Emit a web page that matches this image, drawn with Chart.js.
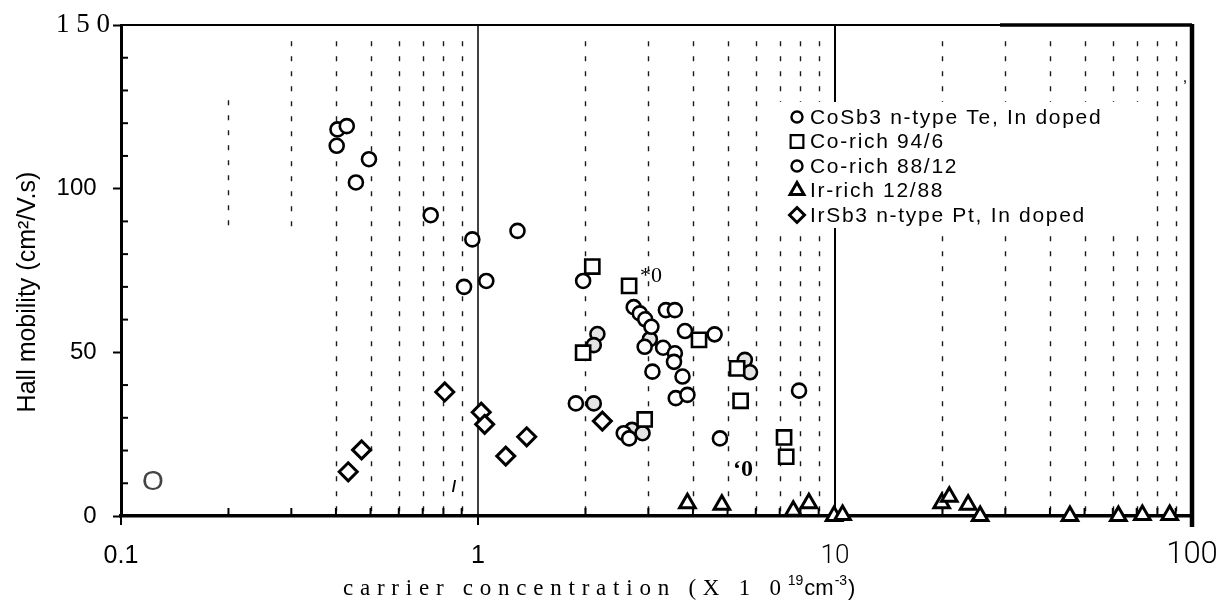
<!DOCTYPE html>
<html>
<head>
<meta charset="utf-8">
<script src="https://cdn.jsdelivr.net/npm/chart.js@4.4.1/dist/chart.umd.min.js"></script>
<style>
  html, body { margin: 0; padding: 0; background: #fff; }
  #wrap { width: 1218px; height: 611px; }
</style>
</head>
<body>
<div id="wrap"><canvas id="hall"></canvas></div>
<script>
// carrier concentration (x 1e19 cm^-3) against Hall mobility (cm2/V.s)
const cosb3X = [0.404, 0.429, 0.402, 0.495, 0.455, 0.737, 0.964, 1.29, 0.914, 1.055,
                1.97, 2.73, 2.84, 2.94, 3.06, 2.93, 3.30, 3.56, 3.54, 3.08,
                3.74, 3.36, 3.56, 3.80, 4.60, 3.58, 3.86, 1.88, 2.56, 2.65, 4.76, 7.93];
const cosb3Y = [118.1, 119.1, 113.1, 109.0, 101.9, 91.9, 84.5, 87.1, 70.0, 71.8,
                71.8, 63.8, 61.9, 60.1, 57.8, 51.7, 51.4, 49.7, 47.1, 44.1,
                42.6, 62.9, 62.9, 56.5, 55.5, 36.0, 37.0, 34.4, 25.3, 23.7, 23.7, 38.3];

const co946X = [2.09, 2.65, 1.97, 4.16, 2.93, 5.32, 5.44, 7.20, 7.30];
const co946Y = [76.2, 70.3, 49.9, 53.8, 29.5, 45.1, 35.2, 24.0, 18.1];

const co8812X = [2.16, 2.11, 3.03, 2.11, 2.70, 2.89, 5.59, 5.78];
const co8812Y = [55.6, 52.2, 54.0, 34.4, 26.3, 25.3, 47.7, 43.9];

const ir1288X = [3.86, 4.82, 7.64, 8.45, 9.94, 10.5, 19.9, 20.9, 23.6, 25.5, 45.5, 62.2, 72.6, 86.6];
const ir1288Y = [3.9, 3.4, 1.6, 3.9, 0, 0.3, 3.9, 5.9, 3.4, 0, 0, 0, 0.3, 0.3];

const irsb3X = [0.433, 0.472, 0.807, 1.021, 1.044, 1.196, 1.369, 2.23];
const irsb3Y = [13.5, 20.2, 37.9, 31.7, 28.0, 18.3, 24.2, 29.0];

const seriesNames = ['CoSb3 n-type Te, In doped', 'Co-rich 94/6', 'Co-rich 88/12',
                     'Ir-rich 12/88', 'IrSb3 n-type Pt, In doped'];

const xTicks = [0.1, 1, 10, 100];
const xTickLabels = ['0.1', '1', '10', '100'];
const yTicks = [0, 50, 100, 150];
const yTickLabels = ['0', '50', '100', '1 5 0'];

const SANS = "'Liberation Sans', Arial, sans-serif";
const SERIF = "'Liberation Serif', 'Times New Roman', serif";
const LIGHT = "Roboto, 'Liberation Sans', sans-serif";

function pts(xs, ys) {
  return xs.map((x, i) => ({x: x, y: ys[i]}));
}

function marker(style, r, bw, fill) {
  return {
    pointStyle: style, pointRadius: r, pointHoverRadius: r,
    pointBorderWidth: bw, pointBackgroundColor: fill, pointBorderColor: '#000',
    showLine: false, clip: false
  };
}

const datasets = [
  Object.assign({label: seriesNames[0], data: pts(cosb3X, cosb3Y)}, marker('circle', 7, 2.6, '#fff')),
  Object.assign({label: seriesNames[1], data: pts(co946X, co946Y)}, marker('rect', 10, 2.6, '#fff')),
  Object.assign({label: seriesNames[2], data: pts(co8812X, co8812Y)}, marker('circle', 7, 2.6, '#e4e4e4')),
  Object.assign({label: seriesNames[3], data: pts(ir1288X, ir1288Y)}, marker('triangle', 9, 3, '#fff')),
  Object.assign({label: seriesNames[4], data: pts(irsb3X, irsb3Y)}, marker('rectRot', 9, 3, '#fff'))
];

// legend marker sizes (smaller than the plotted marks)
const legendMarks = [
  {pointStyle: 'circle', radius: 5.5, borderWidth: 2.4},
  {pointStyle: 'rect', radius: 9, borderWidth: 2.2},
  {pointStyle: 'circle', radius: 5.5, borderWidth: 2.4},
  {pointStyle: 'triangle', radius: 8, borderWidth: 3},
  {pointStyle: 'rectRot', radius: 7.5, borderWidth: 3}
];

// fonts for the decade labels under the x axis
const xLabelFonts = ['25px ' + SANS, '25px ' + SANS, '300 26px ' + LIGHT, '300 31px ' + LIGHT];

// draw text with extra tracking so it fills a given width
function trackedText(ctx, str, x, y, width) {
  ctx.letterSpacing = '0px';
  const w0 = ctx.measureText(str).width;
  const sp = Math.max(0, (width - w0) / Math.max(1, str.length - 1));
  ctx.letterSpacing = sp + 'px';
  ctx.fillText(str, x, y);
  ctx.letterSpacing = '0px';
  return x + w0 + sp * str.length;
}

const framePlugin = {
  id: 'frame',
  beforeDatasetsDraw(chart) {
    const {ctx, chartArea: a, scales: {x, y}} = chart;
    ctx.save();
    // dashed lines at the intermediate decade values
    ctx.strokeStyle = '#1a1a1a';
    ctx.lineWidth = 1.4;
    ctx.setLineDash([5, 10]);
    [0.1, 1, 10].forEach(d => {
      for (let k = 2; k <= 9; k++) {
        const v = d * k;
        const px = Math.round(x.getPixelForValue(v)) + 0.5;
        let top = y.getPixelForValue(145);
        let bot = a.bottom;
        if (v < 0.25) { top = y.getPixelForValue(127); bot = y.getPixelForValue(86); }
        else if (v < 0.35) { bot = y.getPixelForValue(86); }
        ctx.beginPath();
        ctx.moveTo(px, top);
        ctx.lineTo(px, bot);
        ctx.stroke();
      }
    });
    ctx.setLineDash([]);
    // solid lines at 1 and 10
    [[1, 1.5], [10, 2]].forEach(([v, w]) => {
      const px = x.getPixelForValue(v);
      ctx.lineWidth = w;
      ctx.strokeStyle = '#000';
      ctx.beginPath();
      ctx.moveTo(px, a.top);
      ctx.lineTo(px, a.bottom);
      ctx.stroke();
    });
    // short inner ticks on the x axis
    ctx.lineWidth = 2;
    [0.1, 1, 10].forEach(d => {
      for (let k = 2; k <= 9; k++) {
        const px = x.getPixelForValue(d * k);
        ctx.beginPath();
        ctx.moveTo(px, a.bottom);
        ctx.lineTo(px, a.bottom - 8);
        ctx.stroke();
      }
    });
    // downward ticks at 0.1 and 1
    [0.1, 1].forEach(v => {
      const px = x.getPixelForValue(v);
      ctx.beginPath();
      ctx.moveTo(px, a.bottom);
      ctx.lineTo(px, a.bottom + 9);
      ctx.stroke();
    });
    // short inner ticks on the y axis between labelled values
    for (let v = 10; v < 150; v += 10) {
      if (v % 50 === 0) continue;
      const py = y.getPixelForValue(v);
      ctx.beginPath();
      ctx.moveTo(a.left, py);
      ctx.lineTo(a.left + 7, py);
      ctx.stroke();
    }
    ctx.restore();
  },
  afterDraw(chart) {
    const {ctx, chartArea: a, scales: {x}} = chart;
    ctx.save();
    // top and right frame
    ctx.strokeStyle = '#000';
    ctx.lineWidth = 2;
    ctx.beginPath();
    ctx.moveTo(a.left, a.top);
    ctx.lineTo(1000, a.top);
    ctx.stroke();
    ctx.lineWidth = 3.5;
    ctx.beginPath();
    ctx.moveTo(1000, a.top);
    ctx.lineTo(a.right, a.top);
    ctx.stroke();
    ctx.lineWidth = 4.5;
    ctx.beginPath();
    ctx.moveTo(a.right, a.top - 1);
    ctx.lineTo(a.right, a.bottom + 11);
    ctx.stroke();

    // decade labels under the x axis
    ctx.fillStyle = '#000';
    ctx.textAlign = 'center';
    ctx.textBaseline = 'alphabetic';
    xTicks.forEach((v, i) => {
      ctx.font = xLabelFonts[i];
      ctx.fillText(xTickLabels[i], x.getPixelForValue(v), 563);
    });

    // legend
    ctx.fillStyle = '#fff';
    ctx.fillRect(772, 102, 376, 126);
    ctx.textBaseline = 'middle';
    ctx.textAlign = 'left';
    ctx.font = '21px ' + SANS;
    seriesNames.forEach((name, i) => {
      const ly = 117 + 24.5 * i;
      ctx.fillStyle = '#fff';
      ctx.strokeStyle = '#000';
      ctx.lineWidth = legendMarks[i].borderWidth;
      Chart.helpers.drawPoint(ctx, Object.assign({rotation: 0}, legendMarks[i]), 797, ly);
      ctx.fillStyle = '#000';
      ctx.letterSpacing = '1.7px';
      ctx.fillText(name, 810, ly + 1);
      ctx.letterSpacing = '0px';
    });

    // y axis title
    ctx.save();
    ctx.translate(28, 292);
    ctx.rotate(-Math.PI / 2);
    ctx.textAlign = 'center';
    ctx.font = '25px ' + SANS;
    ctx.fillStyle = '#000';
    ctx.fillText('Hall mobility (cm\u00B2/V.s)', 0, 0);
    ctx.restore();

    // x axis title
    ctx.fillStyle = '#000';
    ctx.textAlign = 'left';
    ctx.textBaseline = 'alphabetic';
    ctx.font = '23px ' + SERIF;
    let cx = trackedText(ctx, 'carrier concentration (X 1 0', 343, 595, 438);
    ctx.font = '14px ' + SANS;
    ctx.fillText('19', cx, 585);
    cx += ctx.measureText('19').width + 1;
    ctx.font = '22px ' + SANS;
    ctx.fillText('cm', cx, 595);
    cx += ctx.measureText('cm').width + 1;
    ctx.font = '14px ' + SANS;
    ctx.fillText('-3', cx, 585);
    cx += ctx.measureText('-3').width + 1;
    ctx.font = '22px ' + SANS;
    ctx.fillText(')', cx, 595);

    // stray marks in the plot area
    ctx.textBaseline = 'middle';
    ctx.textAlign = 'center';
    ctx.font = '22px ' + SERIF;
    ctx.fillText('*0', 651, 276);
    ctx.font = 'bold 24px ' + SERIF;
    ctx.fillText('\u20180', 743, 470);
    ctx.font = '28px ' + SANS;
    ctx.fillStyle = '#444';
    ctx.fillText('O', 153, 482);
    ctx.fillStyle = '#000';
    ctx.font = 'bold 16px ' + SANS;
    ctx.fillText('/', 454, 488);
    ctx.font = '16px ' + SANS;
    ctx.fillText(',', 1185, 78);
    ctx.restore();
  }
};

new Chart(document.getElementById('hall'), {
  type: 'scatter',
  data: {datasets: datasets},
  options: {
    responsive: true,
    maintainAspectRatio: false,
    animation: false,
    layout: {padding: {top: 25, right: 26, left: 0, bottom: 0}},
    plugins: {legend: {display: false}, tooltip: {enabled: false}},
    scales: {
      x: {
        type: 'logarithmic',
        min: 0.1,
        max: 100,
        afterFit: s => { s.height = 95; },
        grid: {display: false, drawTicks: false},
        border: {display: true, width: 3.5, color: '#000'},
        ticks: {display: false}
      },
      y: {
        min: 0,
        max: 150,
        afterFit: s => { s.width = 121; },
        grid: {
          drawOnChartArea: false,
          drawTicks: true,
          tickLength: 8,
          tickWidth: 2,
          tickColor: c => (c.tick && c.tick.value % 50 === 0) ? '#000' : 'rgba(0,0,0,0)'
        },
        border: {display: true, width: 3, color: '#000'},
        ticks: {
          autoSkip: false,
          stepSize: 10,
          padding: 3,
          color: '#000',
          callback: v => {
            const i = yTicks.indexOf(v);
            if (i < 0) return '';
            // plain labels sit a little further from the axis than the serif top label
            return v === 150 ? yTickLabels[i] : yTickLabels[i] + '  ';
          },
          font: c => (c.tick && c.tick.value === 150)
            ? {family: SERIF, size: 27}
            : {family: SANS, size: 24}
        }
      }
    }
  },
  plugins: [framePlugin]
});
</script>
</body>
</html>
